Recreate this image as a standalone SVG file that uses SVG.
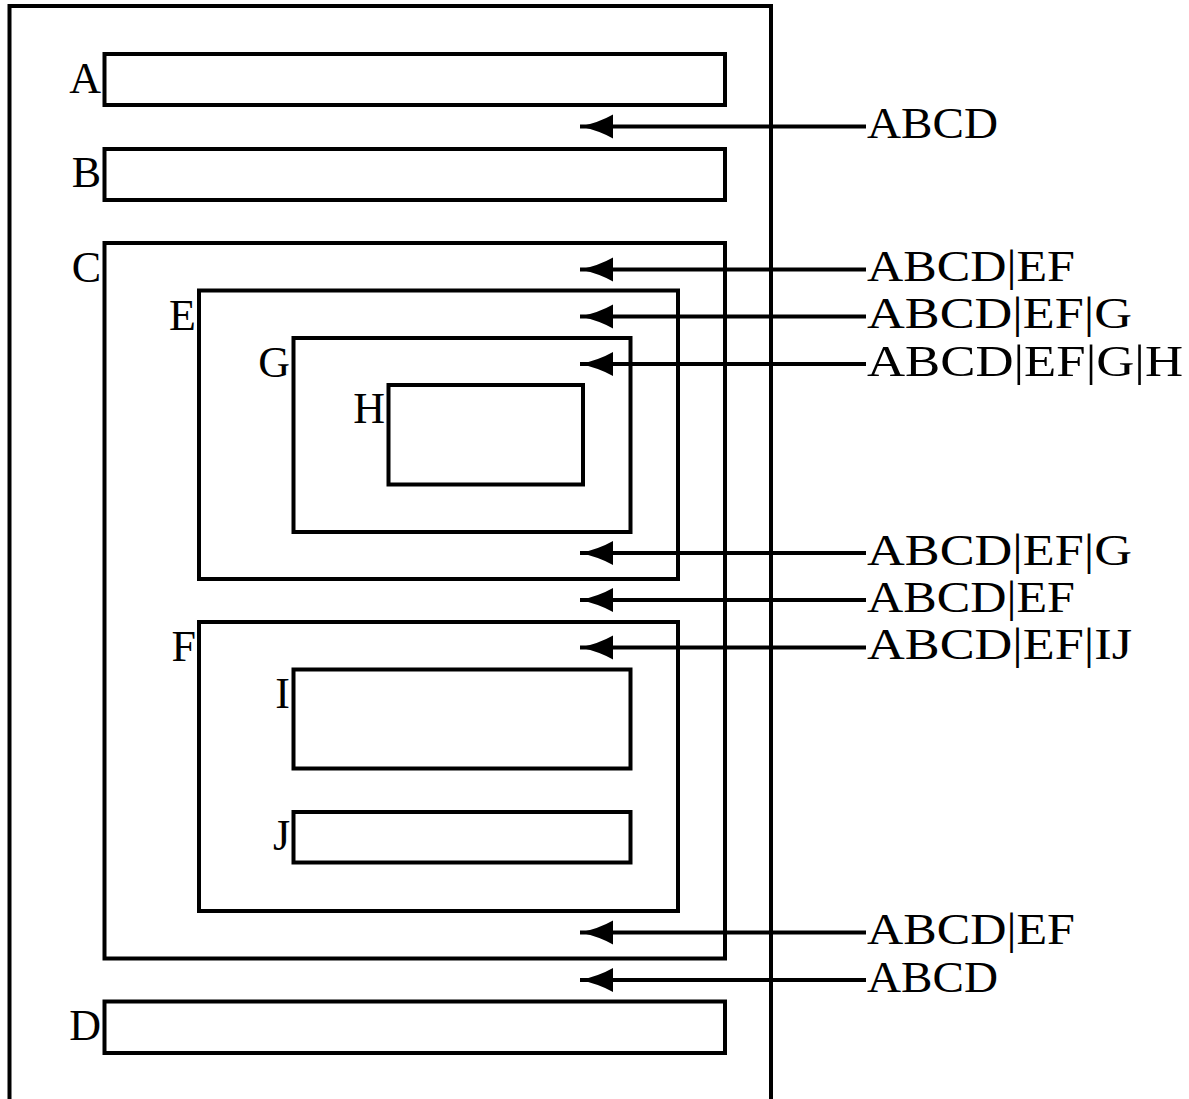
<svg xmlns="http://www.w3.org/2000/svg" width="1189" height="1099" viewBox="0 0 1189 1099">
<style>
  rect.box { fill: none; stroke: #000; stroke-width: 4; }
  text { font-family: "Liberation Serif", "DejaVu Serif", serif; font-size: 44px; fill: #000; }
  text.nl { text-anchor: end; }
  line.conn { stroke: #000; stroke-width: 4; marker-end: url(#ah); }
</style>
<defs>
  <marker id="ah" markerUnits="userSpaceOnUse" markerWidth="36" markerHeight="26" viewBox="0 0 36 26" refX="34" refY="13" orient="auto" overflow="visible">
    <path d="M34,13 Q15,9 1,1 L1,25 Q15,17 34,13 Z" fill="#000"/>
  </marker>
</defs>
<rect width="1189" height="1099" fill="#fff"/>
<g id="outer"><rect class="box" x="9.5" y="6" width="761.5" height="1096"/></g>
<g id="node-A"><rect class="box" x="104.5" y="54" width="620.5" height="51"/><text class="nl" x="101" y="93">A</text></g>
<g id="node-B"><rect class="box" x="104.5" y="149" width="620.5" height="51"/><text class="nl" x="101" y="187">B</text></g>
<g id="node-C"><rect class="box" x="104.5" y="243" width="620.5" height="715.5"/><text class="nl" x="101" y="282">C</text>
  <g id="node-E"><rect class="box" x="199" y="290.5" width="479" height="288.5"/><text class="nl" x="196" y="330">E</text>
    <g id="node-G"><rect class="box" x="293.5" y="338" width="337" height="194"/><text class="nl" x="290" y="377">G</text>
      <g id="node-H"><rect class="box" x="388.5" y="385" width="194.5" height="99.5"/><text class="nl" x="385" y="423">H</text></g>
    </g>
  </g>
  <g id="node-F"><rect class="box" x="199" y="622" width="479" height="289"/><text class="nl" x="196" y="661">F</text>
    <g id="node-I"><rect class="box" x="293.5" y="669.5" width="337" height="99"/><text class="nl" x="290" y="708">I</text></g>
    <g id="node-J"><rect class="box" x="293.5" y="812" width="337" height="50.5"/><text class="nl" x="290" y="850">J</text></g>
  </g>
</g>
<g id="node-D"><rect class="box" x="104.5" y="1001.5" width="620.5" height="51.5"/><text class="nl" x="101" y="1040">D</text></g>
<g id="connectors">
  <line class="conn" x1="866" y1="126.5" x2="580" y2="126.5"/>
  <line class="conn" x1="866" y1="269.5" x2="580" y2="269.5"/>
  <line class="conn" x1="866" y1="316.5" x2="580" y2="316.5"/>
  <line class="conn" x1="866" y1="364" x2="580" y2="364"/>
  <line class="conn" x1="866" y1="553" x2="580" y2="553"/>
  <line class="conn" x1="866" y1="600" x2="580" y2="600"/>
  <line class="conn" x1="866" y1="647.5" x2="580" y2="647.5"/>
  <line class="conn" x1="866" y1="932.5" x2="580" y2="932.5"/>
  <line class="conn" x1="866" y1="980" x2="580" y2="980"/>
</g>
<g id="connector-labels">
  <text x="867" y="138" textLength="131" lengthAdjust="spacingAndGlyphs">ABCD</text>
  <text x="867" y="281" textLength="208" lengthAdjust="spacingAndGlyphs">ABCD|EF</text>
  <text x="867" y="328" textLength="265" lengthAdjust="spacingAndGlyphs">ABCD|EF|G</text>
  <text x="867" y="376" textLength="316" lengthAdjust="spacingAndGlyphs">ABCD|EF|G|H</text>
  <text x="867" y="565" textLength="265" lengthAdjust="spacingAndGlyphs">ABCD|EF|G</text>
  <text x="867" y="612" textLength="208" lengthAdjust="spacingAndGlyphs">ABCD|EF</text>
  <text x="867" y="659" textLength="265" lengthAdjust="spacingAndGlyphs">ABCD|EF|IJ</text>
  <text x="867" y="944" textLength="208" lengthAdjust="spacingAndGlyphs">ABCD|EF</text>
  <text x="867" y="992" textLength="131" lengthAdjust="spacingAndGlyphs">ABCD</text>
</g>
</svg>
